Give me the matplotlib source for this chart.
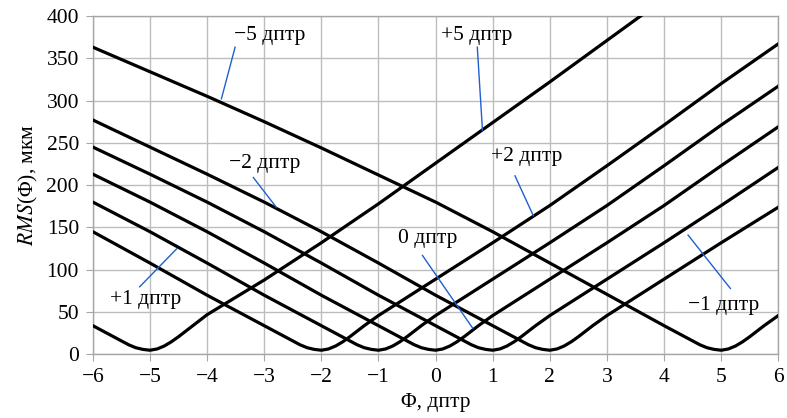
import matplotlib
matplotlib.use('Agg')
import matplotlib.pyplot as plt

# шрифты: Times-подобный с кириллицей
plt.rcParams['font.family'] = ['Liberation Serif', 'DejaVu Serif']
plt.rcParams['mathtext.fontset'] = 'stix'
plt.rcParams['font.size'] = 15.5

# кривые RMS(Ф) (мкм)
phi_p5 = [-6, -5.75, -5.5, -5.375, -5.25, -5.125, -5, -4.875, -4.75, -4.625, -4.5, -4.25, -4,
          -3, -2, -1, 0, 1, 2, 3, 4]
rms_p5 = [34, 25, 16, 11.5, 8, 6, 5, 6.5, 10, 15, 21, 34, 47,
          88, 132, 178, 226, 274, 322, 371, 420]

phi_p2 = [-6, -5, -4, -3, -2.75, -2.5, -2.375, -2.25, -2.125, -2, -1.875, -1.75, -1.625, -1.5,
          -1.25, -1, 0, 1, 2, 3, 4, 5, 6]
rms_p2 = [145, 108, 70, 34, 25, 16, 11.5, 8, 6, 5, 6.5, 10, 15, 21,
          34, 46, 89, 132, 176, 223, 271, 320, 367]

phi_p1 = [-6, -5, -4, -3, -2, -1.75, -1.5, -1.375, -1.25, -1.125, -1, -0.875, -0.75, -0.625, -0.5,
          -0.25, 0, 1, 2, 3, 4, 5, 6]
rms_p1 = [180, 145, 108, 70, 34, 25, 16, 11.5, 8, 6, 5, 6.5, 10, 15, 21,
          34, 46, 89, 132, 176, 223, 271, 317]

phi_0 = [-6, -5, -4, -3, -2, -1, -0.75, -0.5, -0.375, -0.25, -0.125, 0, 0.125, 0.25, 0.375, 0.5,
         0.75, 1, 2, 3, 4, 5, 6]
rms_0 = [213, 180, 145, 108, 70, 34, 25, 16, 11.5, 8, 6, 5, 6.5, 10, 15, 21,
         34, 46, 89, 132, 176, 223, 269]

phi_m1 = [-6, -5, -4, -3, -2, -1, 0, 0.25, 0.5, 0.625, 0.75, 0.875, 1, 1.125, 1.25, 1.375, 1.5,
          1.75, 2, 3, 4, 5, 6]
rms_m1 = [245, 213, 180, 145, 108, 70, 34, 25, 16, 11.5, 8, 6, 5, 6.5, 10, 15, 21,
          34, 46, 89, 132, 176, 221]

phi_m2 = [-6, -5, -4, -3, -2, -1, 0, 1, 1.25, 1.5, 1.625, 1.75, 1.875, 2, 2.125, 2.25, 2.375, 2.5,
          2.75, 3, 4, 5, 6]
rms_m2 = [277, 245, 213, 180, 145, 108, 70, 34, 25, 16, 11.5, 8, 6, 5, 6.5, 10, 15, 21,
          34, 46, 89, 132, 174]

phi_m5 = [-6, -5, -4, -3, -2, -1, 0, 1, 2, 3, 4, 4.25, 4.5, 4.625, 4.75, 4.875, 5, 5.125, 5.25,
          5.375, 5.5, 5.75, 6]
rms_m5 = [363, 334, 305, 275, 244, 212, 180, 145, 108, 71, 34, 25, 16, 11.5, 8, 6, 5, 6.5, 10,
          15, 21, 34, 46]

curves = [(phi_p5, rms_p5), (phi_p2, rms_p2), (phi_p1, rms_p1), (phi_0, rms_0),
          (phi_m1, rms_m1), (phi_m2, rms_m2), (phi_m5, rms_m5)]

# подписи: текст, положение текста, начало и конец выноски
labels = ['\u22125 дптр', '+5 дптр', '\u22122 дптр', '+2 дптр', '0 дптр', '+1 дптр', '\u22121 дптр']
label_xy = [(-2.90, 371), (0.72, 372), (-2.99, 220), (1.59, 229), (-0.13, 132), (-5.07, 60), (5.04, 53)]
leader_from = [(-3.51, 363), (0.73, 363), (-3.19, 209), (1.39, 211), (-0.23, 117), (-5.18, 80), (5.16, 78)]
leader_to = [(-3.75, 302), (0.82, 265), (-2.79, 174), (1.71, 164), (0.65, 31), (-4.53, 125), (4.42, 141)]

fig = plt.figure(figsize=(7.87, 4.18), dpi=100)
ax = fig.add_axes([0.118, 0.152, 0.871, 0.810])

for x, y in curves:
    ax.plot(x, y, color='black', lw=2.3, solid_joinstyle='round', zorder=3)

for txt, (tx, ty), p0, p1 in zip(labels, label_xy, leader_from, leader_to):
    ax.plot([p0[0], p1[0]], [p0[1], p1[1]], color='#1f5fd0', lw=1.0, zorder=4)
    ax.text(tx, ty, txt, ha='center', va='baseline', fontsize=15.5, zorder=5)

ax.set_xlim(-6, 6)
ax.set_ylim(0, 400)
ax.set_xticks(range(-6, 7))
ax.set_yticks(range(0, 401, 50))
ax.grid(True, color='#bdbdbd', lw=1.0, zorder=0)
ax.set_axisbelow(True)
for s in ax.spines.values():
    s.set_color('#a6a6a6')
    s.set_linewidth(1.0)
ax.tick_params(direction='out', length=5, color='#a6a6a6', labelsize=15.5, pad=5)

ax.set_xlabel('Φ, дптр', fontsize=15.5, labelpad=4)
ax.set_ylabel('$RMS$(Φ), мкм', fontsize=15.5, labelpad=5)

plt.savefig('out.png', dpi=100)
